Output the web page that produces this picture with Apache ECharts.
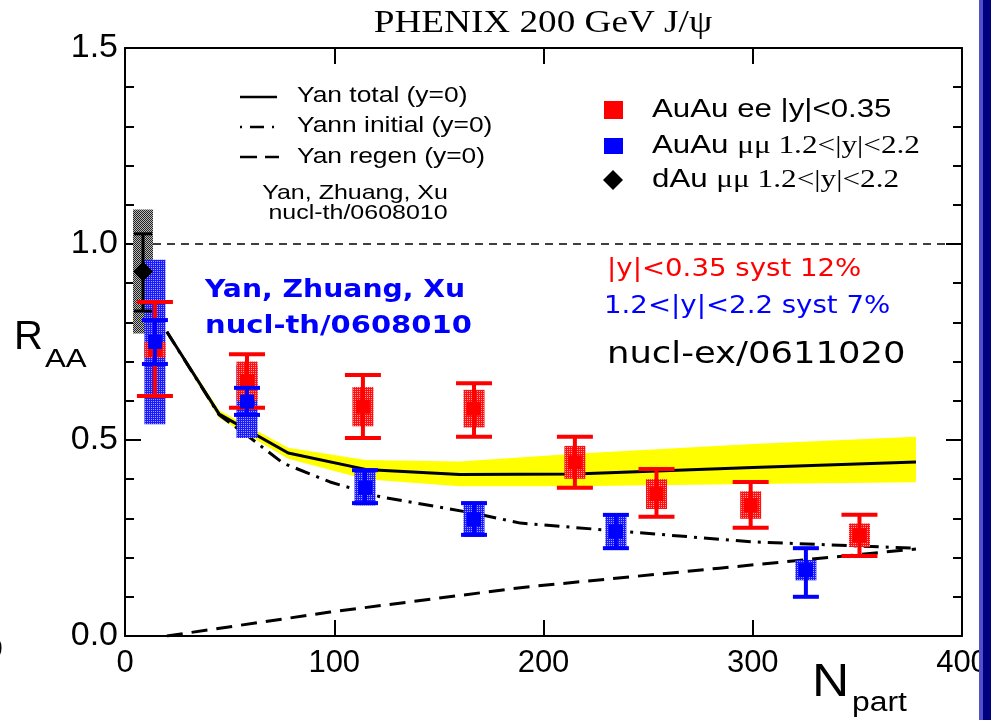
<!DOCTYPE html>
<html>
<head>
<meta charset="utf-8">
<script src="https://cdn.jsdelivr.net/npm/echarts@6/dist/echarts.min.js"></script>
<style>
  html, body { margin: 0; padding: 0; background: #fff; }
  #chart { width: 991px; height: 720px; }
</style>
</head>
<body>
<div id="chart"></div>
<script>
// J/psi nuclear modification factor versus number of participants

// AuAu ee, |y|<0.35
const N_RED = [14.3, 58.3, 113.7, 166.8, 215, 254, 299, 351];
const RAA_RED = [0.73, 0.65, 0.585, 0.58, 0.443, 0.362, 0.334, 0.257];
const STAT_RED_LO = [0.612, 0.582, 0.505, 0.508, 0.378, 0.304, 0.276, 0.204];
const STAT_RED_HI = [0.852, 0.719, 0.666, 0.645, 0.508, 0.426, 0.393, 0.309];
const SYST_RED = [0.02, 0.05, 0.05, 0.048, 0.042, 0.038, 0.035, 0.03];

// AuAu mumu, 1.2<|y|<2.2
const N_BLUE = [14.3, 58.3, 114.7, 166.8, 234.6, 325.4];
const RAA_BLUE = [0.75, 0.598, 0.378, 0.298, 0.267, 0.168];
const STAT_BLUE_LO = [0.694, 0.564, 0.339, 0.258, 0.224, 0.10];
const STAT_BLUE_HI = [0.806, 0.633, 0.423, 0.339, 0.309, 0.224];
const SYST_BLUE = [0.21, 0.093, 0.045, 0.045, 0.04, 0.026];

// dAu mumu, 1.2<|y|<2.2
const N_DAU = [8.6];
const RAA_DAU = [0.93];
const STAT_DAU_LO = [0.829];
const STAT_DAU_HI = [1.026];
const SYST_DAU = [0.158];

// Yan, Zhuang, Xu model curves (y=0)
const N_TOTAL = [20, 45, 78, 115, 160, 215, 300, 378];
const R_TOTAL = [0.776, 0.566, 0.467, 0.425, 0.412, 0.413, 0.430, 0.444];
const BAND_LO = [0.772, 0.556, 0.452, 0.400, 0.382, 0.382, 0.388, 0.392];
const BAND_HI = [0.780, 0.576, 0.480, 0.449, 0.445, 0.465, 0.490, 0.508];

const N_INIT = [20, 45, 60, 75.5, 98, 122, 167, 189, 235, 300, 378];
const R_INIT = [0.776, 0.564, 0.505, 0.441, 0.393, 0.355, 0.313, 0.288, 0.268, 0.240, 0.224];

const N_REGEN = [20, 98, 190, 284, 378];
const R_REGEN = [0, 0.061, 0.124, 0.173, 0.222];

// Axis ticks
const X_TICKS = [0, 100, 200, 300, 400];
const Y_TICKS = [0.0, 0.5, 1.0, 1.5];
const REF_LEVEL = 1.0;

const SANS = "'Liberation Sans', Arial, Helvetica, sans-serif";
const SERIF = "'Liberation Serif', 'Times New Roman', serif";
const ROUND = "'DejaVu Sans', 'Noto Sans', sans-serif";

function zip(...arrs) {
  return arrs[0].map((_, i) => arrs.map(a => a[i]));
}

// Dithered fill used for the systematic-uncertainty boxes
function dither(base, dot) {
  const c = document.createElement('canvas');
  c.width = 2; c.height = 2;
  const g = c.getContext('2d');
  g.fillStyle = base; g.fillRect(0, 0, 2, 2);
  g.fillStyle = dot; g.fillRect(1, 1, 1, 1);
  return { image: c, repeat: 'repeat' };
}
function checker(a, b) {
  const c = document.createElement('canvas');
  c.width = 2; c.height = 2;
  const g = c.getContext('2d');
  g.fillStyle = b; g.fillRect(0, 0, 2, 2);
  g.fillStyle = a; g.fillRect(0, 0, 1, 1); g.fillRect(1, 1, 1, 1);
  return { image: c, repeat: 'repeat' };
}

const FILL_RED = dither('#ff1010', '#ff9a9a');
const FILL_BLUE = dither('#1a1aff', '#a0a0ff');
const FILL_GREY = checker('#222222', '#b8b8b8');

function systRender(halfW, fill) {
  return function (params, api) {
    const x = api.value(0), y = api.value(1), s = api.value(4);
    const top = api.coord([x, y + s]);
    const bot = api.coord([x, y - s]);
    return {
      type: 'rect',
      shape: { x: top[0] - halfW, y: top[1], width: 2 * halfW, height: bot[1] - top[1] },
      style: { fill: fill }
    };
  };
}

function statRender(capHalf, color, lineW, marker, mSize) {
  return function (params, api) {
    const x = api.value(0), y = api.value(1);
    const c = api.coord([x, y]);
    const lo = api.coord([x, api.value(2)]);
    const hi = api.coord([x, api.value(3)]);
    const st = { stroke: color, lineWidth: lineW };
    const children = [
      { type: 'line', shape: { x1: c[0], y1: hi[1], x2: c[0], y2: lo[1] }, style: st },
      { type: 'line', shape: { x1: c[0] - capHalf, y1: hi[1], x2: c[0] + capHalf, y2: hi[1] }, style: st },
      { type: 'line', shape: { x1: c[0] - capHalf, y1: lo[1], x2: c[0] + capHalf, y2: lo[1] }, style: st }
    ];
    if (marker === 'diamond') {
      children.push({
        type: 'polygon',
        shape: { points: [[c[0], c[1] - mSize], [c[0] + mSize, c[1]], [c[0], c[1] + mSize], [c[0] - mSize, c[1]]] },
        style: { fill: color }
      });
    } else {
      children.push({
        type: 'rect',
        shape: { x: c[0] - mSize, y: c[1] - mSize, width: 2 * mSize, height: 2 * mSize },
        style: { fill: color }
      });
    }
    return { type: 'group', children };
  };
}

function bandRender(params, api) {
  if (params.dataIndex !== 0) return null;
  const pts = [];
  for (let i = 0; i < N_TOTAL.length; i++) pts.push(api.coord([N_TOTAL[i], BAND_HI[i]]));
  for (let i = N_TOTAL.length - 1; i >= 0; i--) pts.push(api.coord([N_TOTAL[i], BAND_LO[i]]));
  return { type: 'polygon', shape: { points: pts }, style: { fill: '#ffff00' } };
}

// Text helper: position, font and horizontal stretch
function label(text, x, y, font, fill, sx, align) {
  return {
    type: 'text', x: x, y: y, scaleX: sx || 1, z: 50,
    style: { text: text, x: 0, y: 0, font: font, fill: fill || '#000', textAlign: align || 'left', textVerticalAlign: 'middle' }
  };
}

const chart = echarts.init(document.getElementById('chart'), null, { renderer: 'canvas' });

const axisLine = { show: true, onZero: false, lineStyle: { color: '#000', width: 2 } };
const tickStyle = { color: '#000', width: 2 };

const option = {
  animation: false,
  backgroundColor: '#ffffff',
  grid: { left: 125, right: 29, top: 48, bottom: 84, containLabel: false },
  xAxis: [
    {
      type: 'value', min: X_TICKS[0], max: X_TICKS[X_TICKS.length - 1], interval: 100,
      position: 'bottom', axisLine,
      axisTick: { show: true, inside: true, length: 16, lineStyle: tickStyle },
      axisLabel: { show: true, fontSize: 31, fontFamily: SANS, color: '#000', margin: 12, showMaxLabel: true, showMinLabel: true },
      splitLine: { show: false }
    },
    {
      type: 'value', min: X_TICKS[0], max: X_TICKS[X_TICKS.length - 1], interval: 100,
      position: 'top', axisLine,
      axisTick: { show: true, inside: true, length: 16, lineStyle: tickStyle },
      axisLabel: { show: false }, splitLine: { show: false }
    }
  ],
  yAxis: [
    {
      type: 'value', min: Y_TICKS[0], max: Y_TICKS[Y_TICKS.length - 1], interval: 0.5,
      position: 'left', axisLine,
      axisTick: { show: true, inside: true, length: 16, lineStyle: tickStyle },
      minorTick: { show: true, splitNumber: 5, length: 9, lineStyle: tickStyle },
      axisLabel: { show: true, fontSize: 34, fontFamily: SANS, color: '#000', margin: 7, formatter: v => v.toFixed(1) },
      splitLine: { show: false }
    },
    {
      type: 'value', min: Y_TICKS[0], max: Y_TICKS[Y_TICKS.length - 1], interval: 0.5,
      position: 'right', axisLine,
      axisTick: { show: true, inside: true, length: 16, lineStyle: tickStyle },
      minorTick: { show: true, splitNumber: 5, length: 9, lineStyle: tickStyle },
      axisLabel: { show: false }, splitLine: { show: false }
    }
  ],
  series: [
    {
      name: 'ref', type: 'line', z: 1, symbol: 'none', silent: true,
      data: [[X_TICKS[0], REF_LEVEL], [X_TICKS[X_TICKS.length - 1], REF_LEVEL]],
      lineStyle: { color: '#000', width: 1.5, type: [8, 6] }
    },
    {
      name: 'band', type: 'custom', z: 2, silent: true,
      data: zip(N_TOTAL, BAND_LO, BAND_HI),
      renderItem: bandRender
    },
    {
      name: 'Yan total (y=0)', type: 'line', z: 4, symbol: 'none',
      data: zip(N_TOTAL, R_TOTAL),
      lineStyle: { color: '#000', width: 3 }
    },
    {
      name: 'Yann initial (y=0)', type: 'line', z: 4, symbol: 'none',
      data: zip(N_INIT, R_INIT),
      lineStyle: { color: '#000', width: 3, type: [15, 7, 3, 7] }
    },
    {
      name: 'Yan regen (y=0)', type: 'line', z: 4, symbol: 'none',
      data: zip(N_REGEN, R_REGEN),
      lineStyle: { color: '#000', width: 3, type: [16, 9] }
    },
    {
      name: 'dAu syst', type: 'custom', z: 5,
      data: zip(N_DAU, RAA_DAU, STAT_DAU_LO, STAT_DAU_HI, SYST_DAU),
      renderItem: systRender(10, FILL_GREY)
    },
    {
      name: 'AuAu mumu syst', type: 'custom', z: 5,
      data: zip(N_BLUE, RAA_BLUE, STAT_BLUE_LO, STAT_BLUE_HI, SYST_BLUE),
      renderItem: systRender(10.5, FILL_BLUE)
    },
    {
      name: 'AuAu ee syst', type: 'custom', z: 5,
      data: zip(N_RED, RAA_RED, STAT_RED_LO, STAT_RED_HI, SYST_RED),
      renderItem: systRender(10.5, FILL_RED)
    },
    {
      name: 'dAu stat', type: 'custom', z: 6,
      data: zip(N_DAU, RAA_DAU, STAT_DAU_LO, STAT_DAU_HI, SYST_DAU),
      renderItem: statRender(9, '#000', 3, 'diamond', 10)
    },
    {
      name: 'AuAu ee stat', type: 'custom', z: 6,
      data: zip(N_RED, RAA_RED, STAT_RED_LO, STAT_RED_HI, SYST_RED),
      renderItem: statRender(18, '#ff0000', 4, 'square', 7)
    },
    {
      name: 'AuAu mumu stat', type: 'custom', z: 6,
      data: zip(N_BLUE, RAA_BLUE, STAT_BLUE_LO, STAT_BLUE_HI, SYST_BLUE),
      renderItem: statRender(13, '#0000ff', 4, 'square', 7)
    }
  ],
  graphic: [
    // title
    label('PHENIX 200 GeV J/\u03C8', 543, 24, '31px ' + SERIF, '#000', 1.2, 'center'),
    // axis titles
    label('R', 14, 338, '40px ' + SANS, '#000', 1.0),
    label('AA', 45, 360, '25px ' + SANS, '#000', 1.25),
    label('N', 812, 683, '46px ' + SANS, '#000', 1.12),
    label('part', 852, 704, '27px ' + SANS, '#000', 1.18),
    label('0', -14, 650, '30px ' + SANS, '#000', 1.0),
    // model legend
    { type: 'line', shape: { x1: 240, y1: 97, x2: 277, y2: 97 }, style: { stroke: '#000', lineWidth: 2.5 } },
    { type: 'line', shape: { x1: 240, y1: 127, x2: 279, y2: 127 }, style: { stroke: '#000', lineWidth: 2.5, lineDash: [2, 8, 14, 8] } },
    { type: 'line', shape: { x1: 240, y1: 157, x2: 279, y2: 157 }, style: { stroke: '#000', lineWidth: 2.5, lineDash: [17, 8] } },
    label('Yan total (y=0)', 297, 96, '22px ' + SANS, '#000', 1.2),
    label('Yann initial (y=0)', 297, 126, '22px ' + SANS, '#000', 1.2),
    label('Yan regen (y=0)', 297, 157, '22px ' + SANS, '#000', 1.2),
    label('Yan, Zhuang, Xu', 355, 193, '21px ' + SANS, '#000', 1.19, 'center'),
    label('nucl-th/0608010', 358, 213, '21px ' + SANS, '#000', 1.19, 'center'),
    // data legend
    { type: 'rect', shape: { x: 604, y: 101, width: 19, height: 18 }, style: { fill: '#ff0000' } },
    { type: 'rect', shape: { x: 604, y: 138, width: 19, height: 16 }, style: { fill: '#0000ff' } },
    { type: 'polygon', shape: { points: [[613, 170], [623, 180], [613, 190], [603, 180]] }, style: { fill: '#000' } },
    label('AuAu ee |y|<0.35', 652, 110, '25px ' + SANS, '#000', 1.25),
    {
      type: 'text', x: 652, y: 146, scaleX: 1.25, z: 50, style: {
        text: '{a|AuAu }{b|\u03BC\u03BC 1.2<|y|<2.2}', x: 0, y: 0, fill: '#000', textVerticalAlign: 'middle',
        rich: { a: { font: '25px ' + SANS, fill: '#000' }, b: { font: '25px ' + SERIF, fill: '#000' } }
      }
    },
    {
      type: 'text', x: 652, y: 180, scaleX: 1.25, z: 50, style: {
        text: '{a|dAu }{b|\u03BC\u03BC 1.2<|y|<2.2}', x: 0, y: 0, fill: '#000', textVerticalAlign: 'middle',
        rich: { a: { font: '25px ' + SANS, fill: '#000' }, b: { font: '25px ' + SERIF, fill: '#000' } }
      }
    },
    // annotations
    label('|y|<0.35 syst 12%', 607, 270, '24px ' + ROUND, '#ff0000', 1.15),
    label('1.2<|y|<2.2 syst 7%', 604, 307, '24px ' + ROUND, '#0000ff', 1.15),
    label('nucl-ex/0611020', 607, 355, '30px ' + ROUND, '#000', 1.18),
    label('Yan, Zhuang, Xu', 205, 290, 'bold 25px ' + ROUND, '#0000ff', 1.13),
    label('nucl-th/0608010', 205, 326, 'bold 25px ' + ROUND, '#0000ff', 1.16),
    // slide border strip on the right
    { type: 'rect', shape: { x: 979, y: 0, width: 4, height: 720 }, style: { fill: '#5050c8' }, z: 100 },
    { type: 'rect', shape: { x: 983, y: 0, width: 8, height: 720 }, style: { fill: '#000080' }, z: 100 }
  ]
};

chart.setOption(option);
</script>
</body>
</html>
